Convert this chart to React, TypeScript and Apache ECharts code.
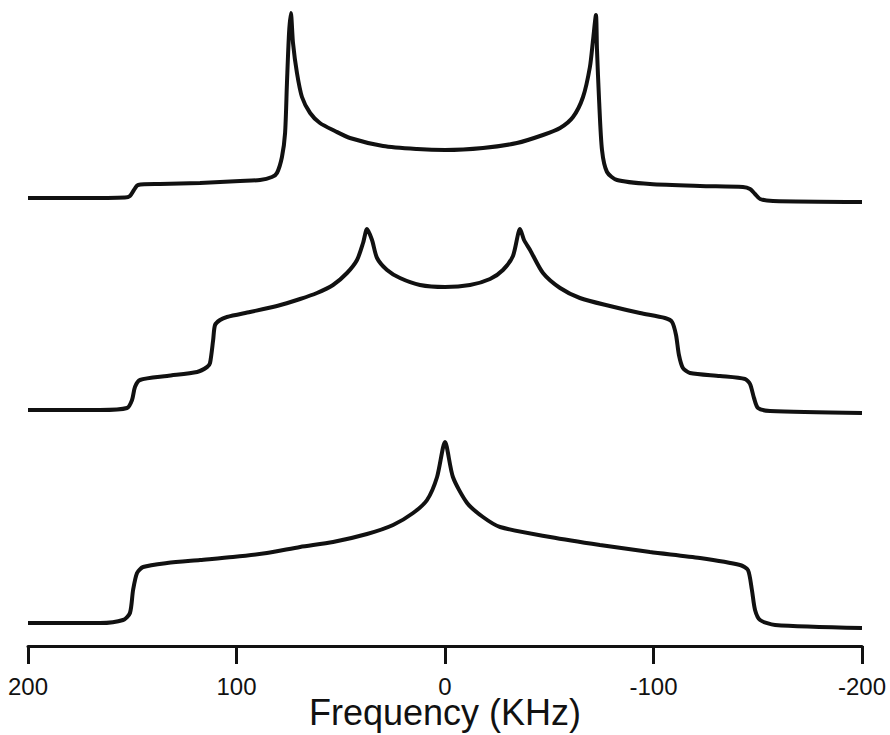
import React, { useEffect, useRef } from "react";
import * as echarts from "echarts";

// Frequency axis (kHz), drawn high-to-low from left to right
const freqMin = -200;
const freqMax = 200;
const freqStep = 100;

// Each spectrum: [frequency kHz, intensity above its own baseline]
const spectrumTop: [number, number][] = [
  [200, 2], [175, 2], [153.5, 2.5], [151.1, 4], [149.2, 10], [147.2, 15],
  [136.7, 16], [117.5, 17], [98.3, 19], [88.7, 20], [83, 23], [80.6, 27],
  [78.2, 43], [76.7, 67], [75.8, 117], [74.8, 167], [73.9, 187], [72.9, 157],
  [71.0, 127], [68.6, 103], [64.7, 87], [60.0, 77], [52.8, 69], [45.6, 62],
  [29.7, 54], [13.4, 51], [0, 50], [-18.2, 52], [-34.5, 57], [-47.0, 65],
  [-55.2, 72], [-61.4, 83], [-66.2, 103], [-69.5, 133], [-71.0, 160],
  [-72.4, 185], [-72.9, 150], [-73.9, 100], [-75.3, 50], [-77.7, 28],
  [-82.5, 20], [-98.3, 16], [-122.3, 14], [-142.9, 13], [-146.3, 11],
  [-148.7, 6], [-151.1, 1], [-157.3, -1], [-200, -2],
];

const spectrumMiddle: [number, number][] = [
  [200, 1], [165.5, 1], [152.5, 3], [150.1, 11], [148.7, 24], [146.3, 31],
  [133.3, 35], [118.9, 39], [114.1, 44], [112.7, 48], [111.2, 71], [110.3, 86],
  [107.9, 91], [104.6, 94], [93.5, 99], [80.6, 105], [69.5, 112], [61.4, 118],
  [53.7, 126], [47.0, 138], [42.2, 151], [39.3, 168], [37.4, 182], [35.0, 171],
  [32.6, 153], [27.8, 141], [21.6, 133], [12.0, 126], [0, 124], [-12.0, 126],
  [-21.6, 132], [-27.8, 141], [-32.6, 155], [-36.0, 182], [-37.9, 171],
  [-40.8, 161], [-47.0, 138], [-55.2, 123], [-64.7, 113], [-79.1, 105],
  [-93.5, 98], [-105.5, 93], [-108.9, 89], [-110.8, 76], [-112.2, 56],
  [-114.1, 43], [-117.5, 38], [-131.9, 35], [-143.9, 32], [-146.3, 27],
  [-148.2, 13], [-150.1, 3], [-155.9, 0], [-200, -2],
];

const spectrumBottom: [number, number][] = [
  [200, 1], [165.5, 1], [154.4, 4], [151.1, 11], [149.6, 34], [147.7, 51],
  [144.8, 57], [133.3, 61], [117.5, 64], [101.7, 67], [85.4, 71], [69.5, 77],
  [53.7, 82], [37.4, 90], [24.9, 99], [15.3, 111], [8.6, 124], [3.8, 147],
  [0, 182], [-3.8, 147], [-10.6, 121], [-18.2, 107], [-26.4, 97], [-50.4, 87],
  [-74.3, 79], [-98.3, 72], [-122.3, 66], [-141.5, 59], [-145.3, 54],
  [-147.2, 34], [-148.7, 14], [-151.1, 4], [-158.3, -1], [-200, -4],
];

// Vertical stacking of the three traces
const stackOffsets = [446, 235, 22];
const plotHeight = 646;

const WIDTH = 890;
const HEIGHT = 735;
const FONT = "'Liberation Sans', Arial, Helvetica, sans-serif";

export default function App() {
  const ref = useRef<HTMLDivElement>(null);

  useEffect(() => {
    if (!ref.current) return;
    const chart = echarts.init(ref.current, undefined, {
      renderer: "svg",
      width: WIDTH,
      height: HEIGHT,
    });

    const traces = [spectrumTop, spectrumMiddle, spectrumBottom];

    chart.setOption({
      animation: false,
      backgroundColor: "#fff",
      grid: {
        left: 28,
        right: 28,
        top: 0,
        bottom: HEIGHT - plotHeight,
        containLabel: false,
        outerBoundsMode: "none",
      },
      xAxis: {
        type: "value",
        min: freqMin,
        max: freqMax,
        interval: freqStep,
        inverse: true,
        name: "Frequency (KHz)",
        nameLocation: "middle",
        nameGap: 55,
        nameMoveOverlap: false,
        nameTextStyle: { fontSize: 36, lineHeight: 22, color: "#111", fontFamily: FONT },
        axisLine: { show: true, lineStyle: { color: "#111", width: 3 } },
        axisTick: { show: true, length: 18, lineStyle: { color: "#111", width: 3 } },
        axisLabel: { fontSize: 24, lineHeight: 16, color: "#111", margin: 32, fontFamily: FONT },
        splitLine: { show: false },
      },
      yAxis: {
        type: "value",
        min: 0,
        max: plotHeight,
        show: false,
        splitLine: { show: false },
      },
      series: traces.map((pts, i) => ({
        type: "line",
        data: pts.map(([f, v]) => [f, v + stackOffsets[i]]),
        showSymbol: false,
        smooth: 0.25,
        lineStyle: { color: "#111", width: 4 },
        silent: true,
      })),
    });

    return () => chart.dispose();
  }, []);

  return (
    <div
      ref={ref}
      style={{ position: "absolute", left: 0, top: 0, width: WIDTH, height: HEIGHT, background: "#fff" }}
    />
  );
}
